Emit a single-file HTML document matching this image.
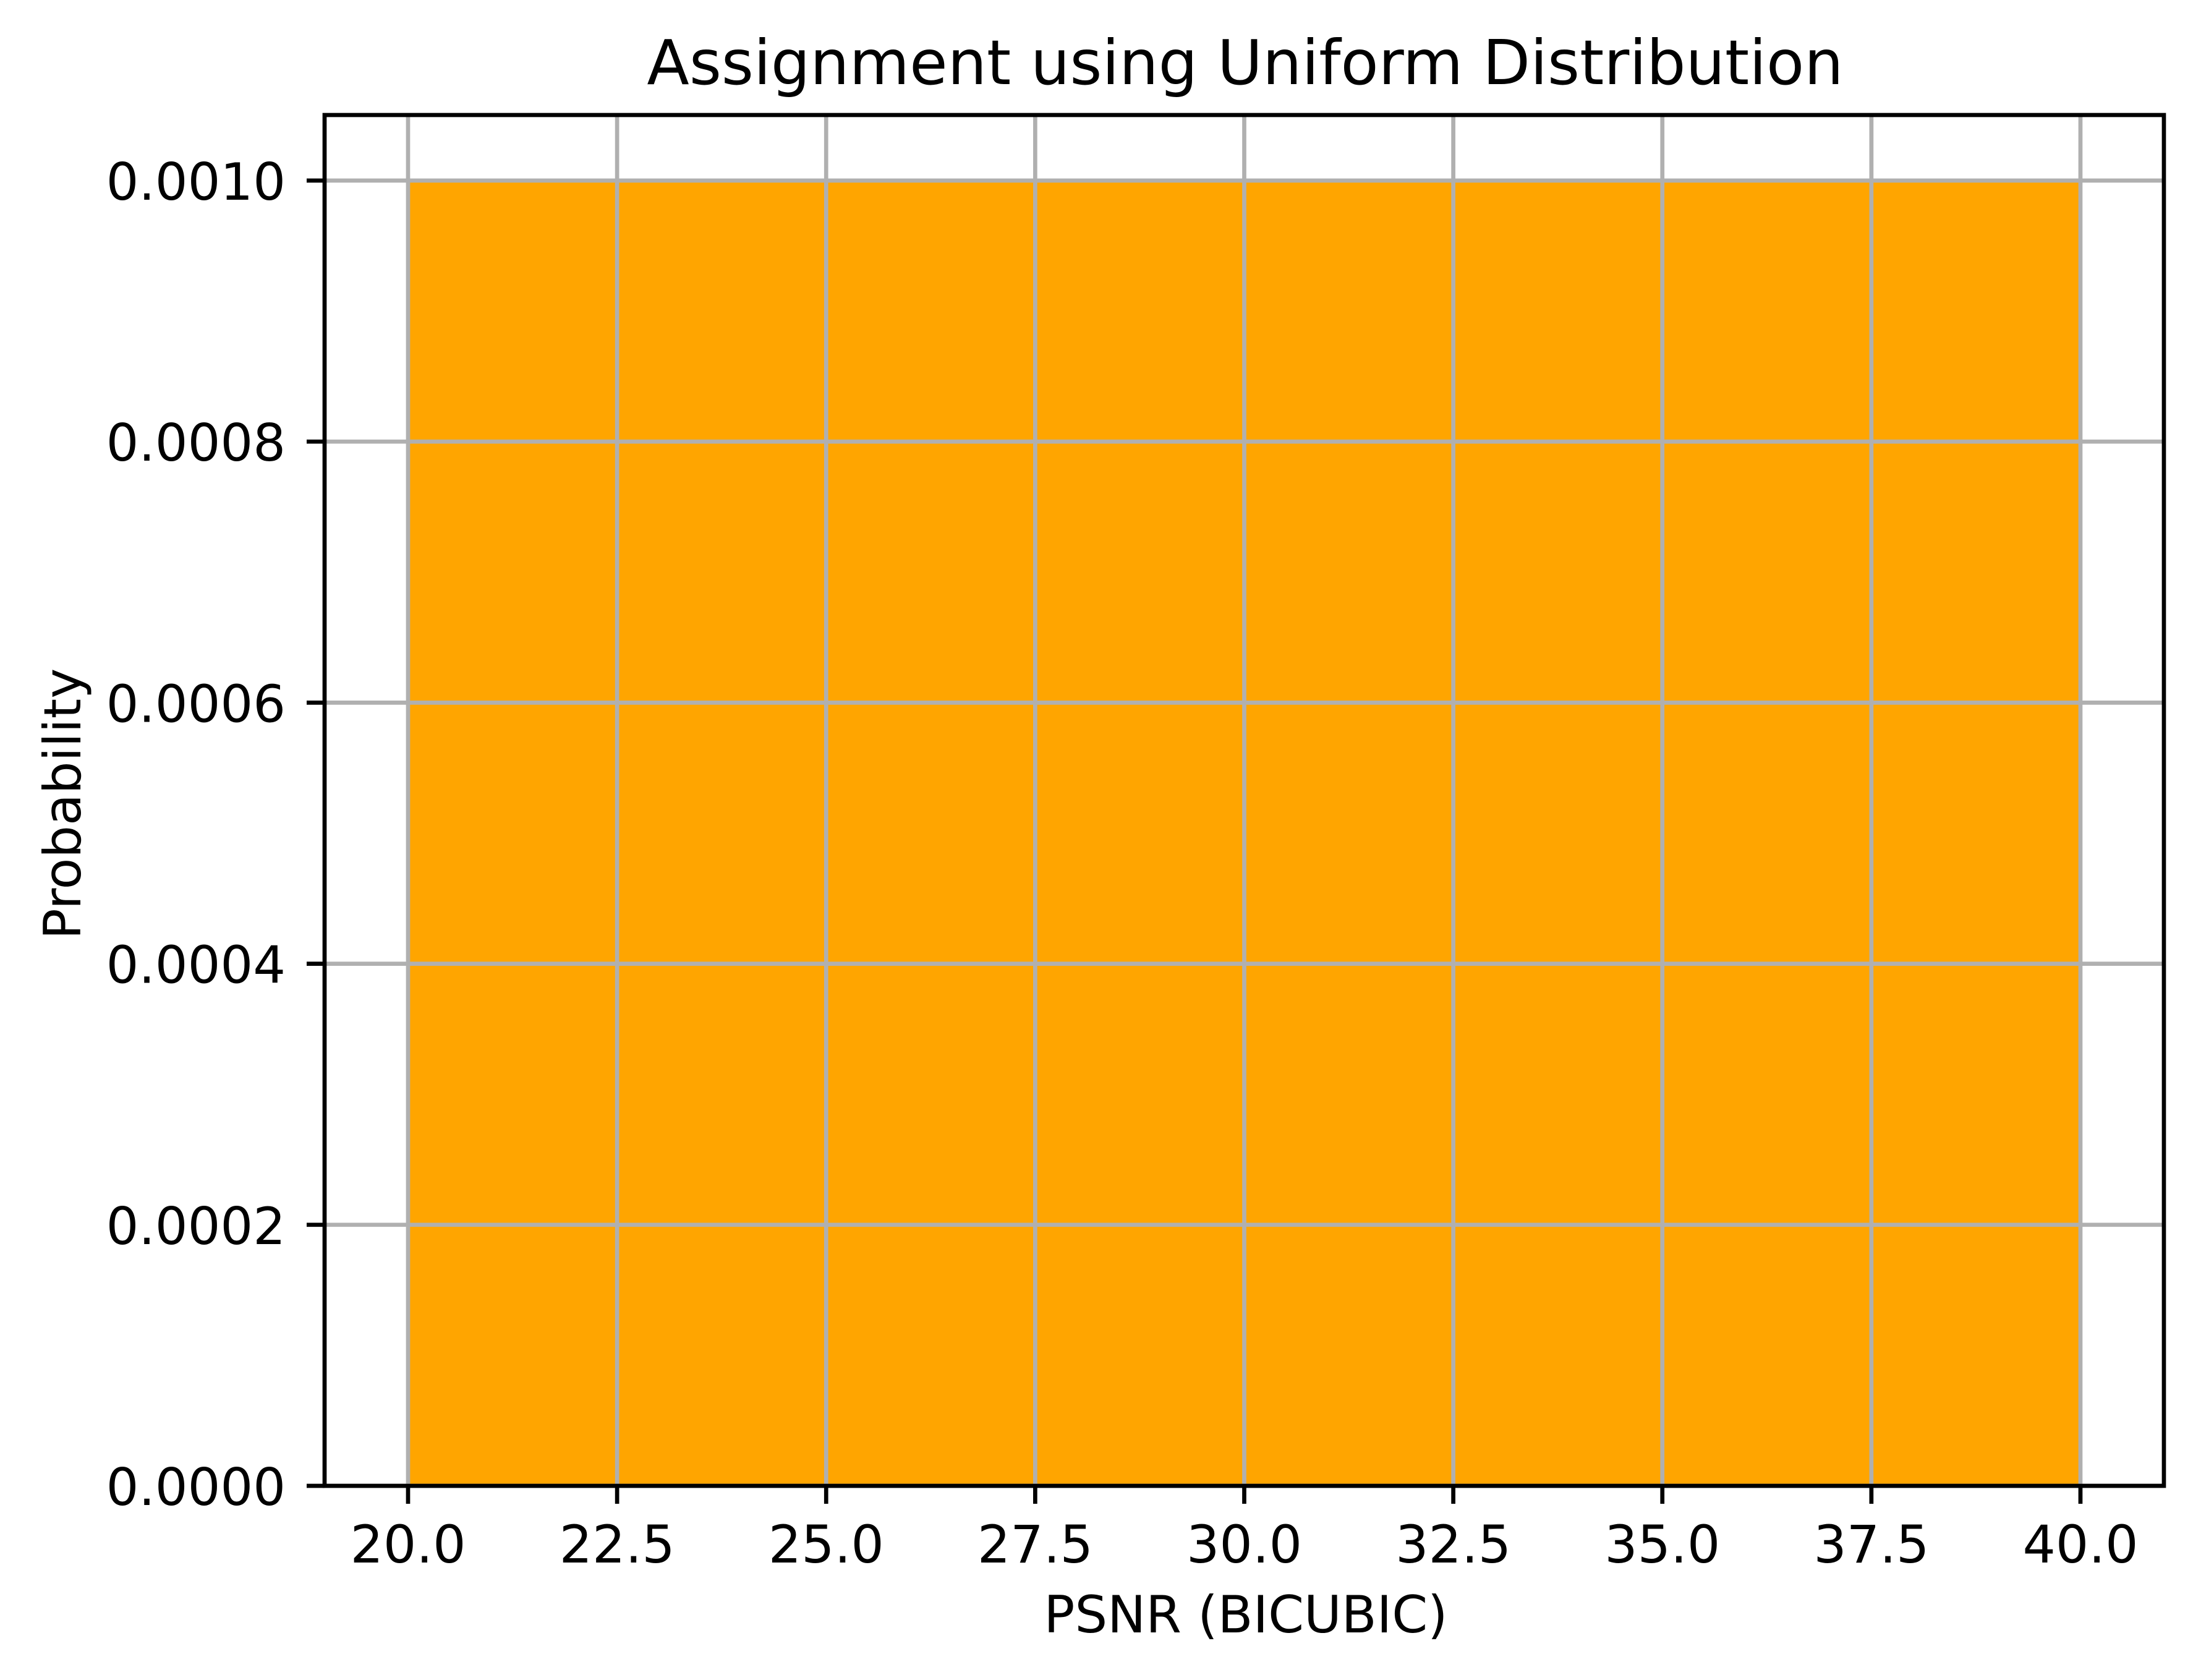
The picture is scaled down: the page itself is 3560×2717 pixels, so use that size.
<!DOCTYPE html>
<html><head><meta charset="utf-8"><style>
html,body{margin:0;padding:0;background:#fff;}
svg{display:block;}
text{font-family:"DejaVu Sans","Liberation Sans",sans-serif;fill:#000;}
</style></head><body>
<svg id="chart" width="3560" height="2717" viewBox="0 0 3560 2717" xmlns="http://www.w3.org/2000/svg">
<rect width="3560" height="2717" fill="#fff"/>
<g id="bars"></g>
<g id="grid"></g>
<g id="axes"></g>
<text x="2014" y="136" font-size="100" text-anchor="middle">Assignment using Uniform Distribution</text>
<text x="2015" y="2640" font-size="83" text-anchor="middle">PSNR (BICUBIC)</text>
<text x="0" y="0" font-size="83" text-anchor="middle" transform="translate(130,1300) rotate(-90)">Probability</text>
</svg>
<script>
const binEdges = [20, 22, 24, 26, 28, 30, 32, 34, 36, 38, 40];
const binValues = [0.001, 0.001, 0.001, 0.001, 0.001, 0.001, 0.001, 0.001, 0.001, 0.001];
const xTicks = [20, 22.5, 25, 27.5, 30, 32.5, 35, 37.5, 40];
const xTickLabels = ["20.0", "22.5", "25.0", "27.5", "30.0", "32.5", "35.0", "37.5", "40.0"];
const yTicks = [0, 0.0002, 0.0004, 0.0006, 0.0008, 0.001];
const yTickLabels = ["0.0000", "0.0002", "0.0004", "0.0006", "0.0008", "0.0010"];

const L = 525, R = 3500, T = 186, B = 2403;
const sx = v => 660 + (v - 20) * (3365 - 660) / 20;
const sy = v => B - v * (B - 292) / 0.001;
const NS = "http://www.w3.org/2000/svg";
function mk(tag, attrs, parent) {
  const e = document.createElementNS(NS, tag);
  for (const k in attrs) e.setAttribute(k, attrs[k]);
  parent.appendChild(e);
  return e;
}
const bars = document.getElementById('bars');
const grid = document.getElementById('grid');
const axes = document.getElementById('axes');

for (let i = 0; i < binValues.length; i++) {
  const x0 = sx(binEdges[i]), x1 = sx(binEdges[i + 1]);
  const y = sy(binValues[i]);
  const r = mk('rect', {x: x0, y: y, width: x1 - x0 + 0.5, height: B - y, fill: '#ffa500'}, bars);
  
  
}
xTicks.forEach((v, i) => {
  const x = sx(v);
  const g = mk('line', {x1: x, x2: x, y1: T, y2: B, stroke: '#b0b0b0', 'stroke-width': 6.7}, grid);
  
  
  const t = mk('line', {x1: x, x2: x, y1: B, y2: B + 29, stroke: '#000', 'stroke-width': 6.7}, axes);
  
  
  const lb = mk('text', {x: x, y: 2527, 'font-size': 84, 'text-anchor': 'middle'}, axes);
  lb.textContent = xTickLabels[i];
  
  
});
yTicks.forEach((v, i) => {
  const y = sy(v);
  const g = mk('line', {x1: L, x2: R, y1: y, y2: y, stroke: '#b0b0b0', 'stroke-width': 6.7}, grid);
  
  
  const t = mk('line', {x1: L - 29, x2: L, y1: y, y2: y, stroke: '#000', 'stroke-width': 6.7}, axes);
  
  
  const lb = mk('text', {x: 462, y: y + 31, 'font-size': 83, 'text-anchor': 'end'}, axes);
  lb.textContent = yTickLabels[i];
  
  
});
const frame = mk('rect', {x: L, y: T, width: R - L, height: B - T, fill: 'none', stroke: '#000', 'stroke-width': 6.7}, axes);


</script>
</body></html>
